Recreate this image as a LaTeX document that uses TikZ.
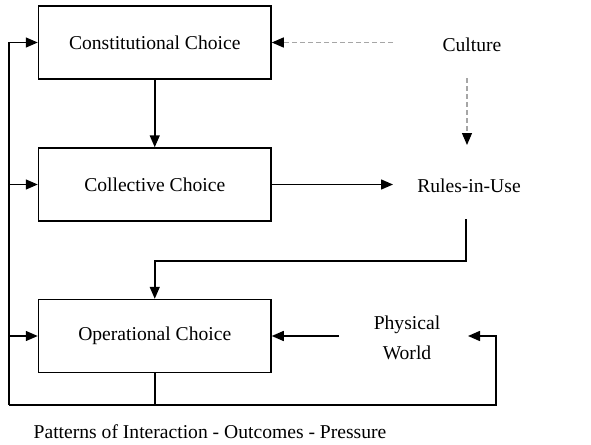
\documentclass[tikz,border=0pt]{standalone}
\usepackage{fontspec}
\setmainfont{Liberation Serif}
\usetikzlibrary{arrows.meta}
\begin{document}
\begin{tikzpicture}[x=1pt,y=-1pt,
  every node/.style={font=\fontsize{19.6}{23}\selectfont, inner sep=0pt},
  choicebox/.style={draw, line width=1.5pt, minimum width=232.5pt, minimum height=73pt},
  conn/.style={line width=1.5pt, -{Triangle[length=12pt,width=10pt]}},
  plainline/.style={line width=1.5pt},
  dasharrow/.style={line width=1.2pt, gray!70, dash pattern=on 5pt off 3pt, -{Triangle[length=12pt,width=10pt,color=black,fill=black]}}]
\useasboundingbox (0,0) rectangle (591,444);
% boxes
\node[choicebox] (con) at (154.75,42.5) {Constitutional Choice};
\node[choicebox] (col) at (154.75,184.5) {Collective Choice};
\node[choicebox] (ope) at (154.75,336) {Operational Choice};
% text nodes
\node (cul) at (472,45) {Culture};
\node (rul) at (469,186) {Rules-in-Use};
\node[align=center] (phy) at (407,338) {Physical\\[7pt]World};
\node (pat) at (210,432) {Patterns of Interaction - Outcomes - Pressure};
% helper coordinates
\coordinate (culL) at (393,42.5);
\coordinate (culT) at (467,78);
\coordinate (culB) at (467,145);
\coordinate (rulL) at (393,184.5);
\coordinate (rulB) at (466,219);
\coordinate (rulC) at (466,261);
\coordinate (opT) at (154.75,261);
\coordinate (phyL) at (339,336);
\coordinate (phyR) at (468,336);
\coordinate (rc) at (496,336);
\coordinate (br) at (496,405);
\coordinate (bl) at (9,405);
\coordinate (bm) at (154.75,405);
\coordinate (l1) at (9,42.5);
\coordinate (l2) at (9,184.5);
\coordinate (l3) at (9,336);
% connectors
\draw[conn] (con.south) -- (col.north);
\draw[dasharrow] (culL) -- (con.east);
\draw[dasharrow] (culT) -- (culB);
\draw[conn] (col.east) -- (rulL);
\draw[conn] (rulB) -- (rulC) -- (opT) -- (ope.north);
\draw[conn] (phyL) -- (ope.east);
\draw[plainline] (ope.south) -- (bm);
\draw[conn] (bl) -- (br) -- (rc) -- (phyR);
\draw[plainline] (bl) -- (l1);
\draw[conn] (l1) -- (con.west);
\draw[conn] (l2) -- (col.west);
\draw[conn] (l3) -- (ope.west);
\end{tikzpicture}
\end{document}
